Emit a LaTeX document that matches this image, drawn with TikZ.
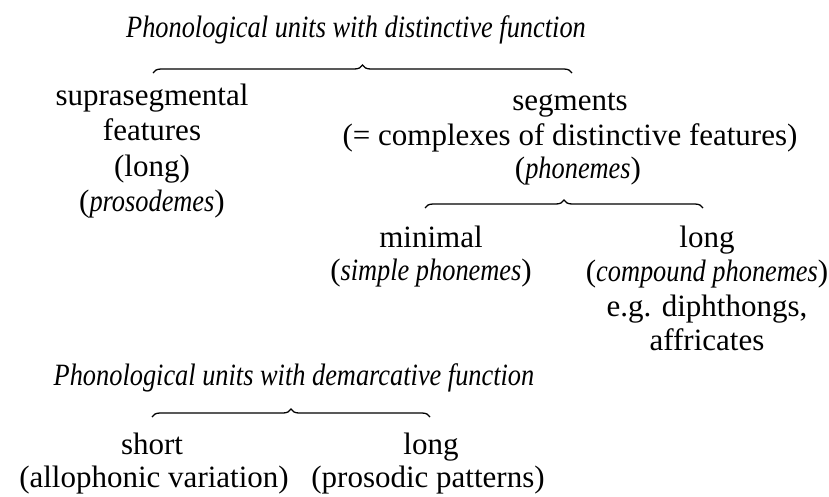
\documentclass[tikz,border=0pt]{standalone}
\usepackage{fontspec}
\setmainfont{Liberation Serif}
\newfontfamily\condfam{Liberation Serif}[FakeStretch=0.85]
\usetikzlibrary{decorations.pathreplacing}
\newcommand\itl[1]{{\fontsize{31}{36}\condfam\itshape #1}}
\begin{document}
\begin{tikzpicture}[x=1pt,y=-1pt,
  txt/.style={anchor=base,inner sep=0pt,font=\fontsize{31}{36}\selectfont},
  ttl/.style={anchor=base,inner sep=0pt,font=\fontsize{31}{36}\condfam\itshape},
  brc/.style={decorate,decoration={brace,amplitude=8pt},line width=1.3pt}]
\useasboundingbox (0,0) rectangle (829,496);
% distinctive function
\node[ttl] (t1) at (356,37) {Phonological units with distinctive function};
\coordinate (b1l) at (153,73);
\coordinate (b1r) at (572,73);
\draw[brc] (b1l) -- (b1r);
\node[txt] (s1) at (152,105) {suprasegmental};
\node[txt] (s2) at (152,140) {features};
\node[txt] (s3) at (152,176) {(long)};
\node[txt] (s4) at (152,211) {(\itl{prosodemes})};
\node[txt] (g1) at (570,110) {segments};
\node[txt] (g2) at (570,145) {(= complexes of distinctive features)};
\node[txt] (g3) at (578,178) {(\itl{phonemes})};
\coordinate (b2l) at (425,208);
\coordinate (b2r) at (703,208);
\draw[brc] (b2l) -- (b2r);
\node[txt] (m1) at (431,247) {minimal};
\node[txt] (m2) at (431,280) {(\itl{simple phonemes})};
\node[txt] (l1) at (707,247) {long};
\node[txt] (l2) at (707,281) {(\itl{compound phonemes})};
\node[txt] (l3) at (707,316) {e.g. diphthongs,};
\node[txt] (l4) at (707,350) {affricates};
% demarcative function
\node[ttl] (t2) at (294,385) {Phonological units with demarcative function};
\coordinate (b3l) at (152,417);
\coordinate (b3r) at (430,417);
\draw[brc] (b3l) -- (b3r);
\node[txt] (d1) at (152,454) {short};
\node[txt] (d2) at (154,487) {(allophonic variation)};
\node[txt] (e1) at (431,454) {long};
\node[txt] (e2) at (428,487) {(prosodic patterns)};
\end{tikzpicture}
\end{document}
